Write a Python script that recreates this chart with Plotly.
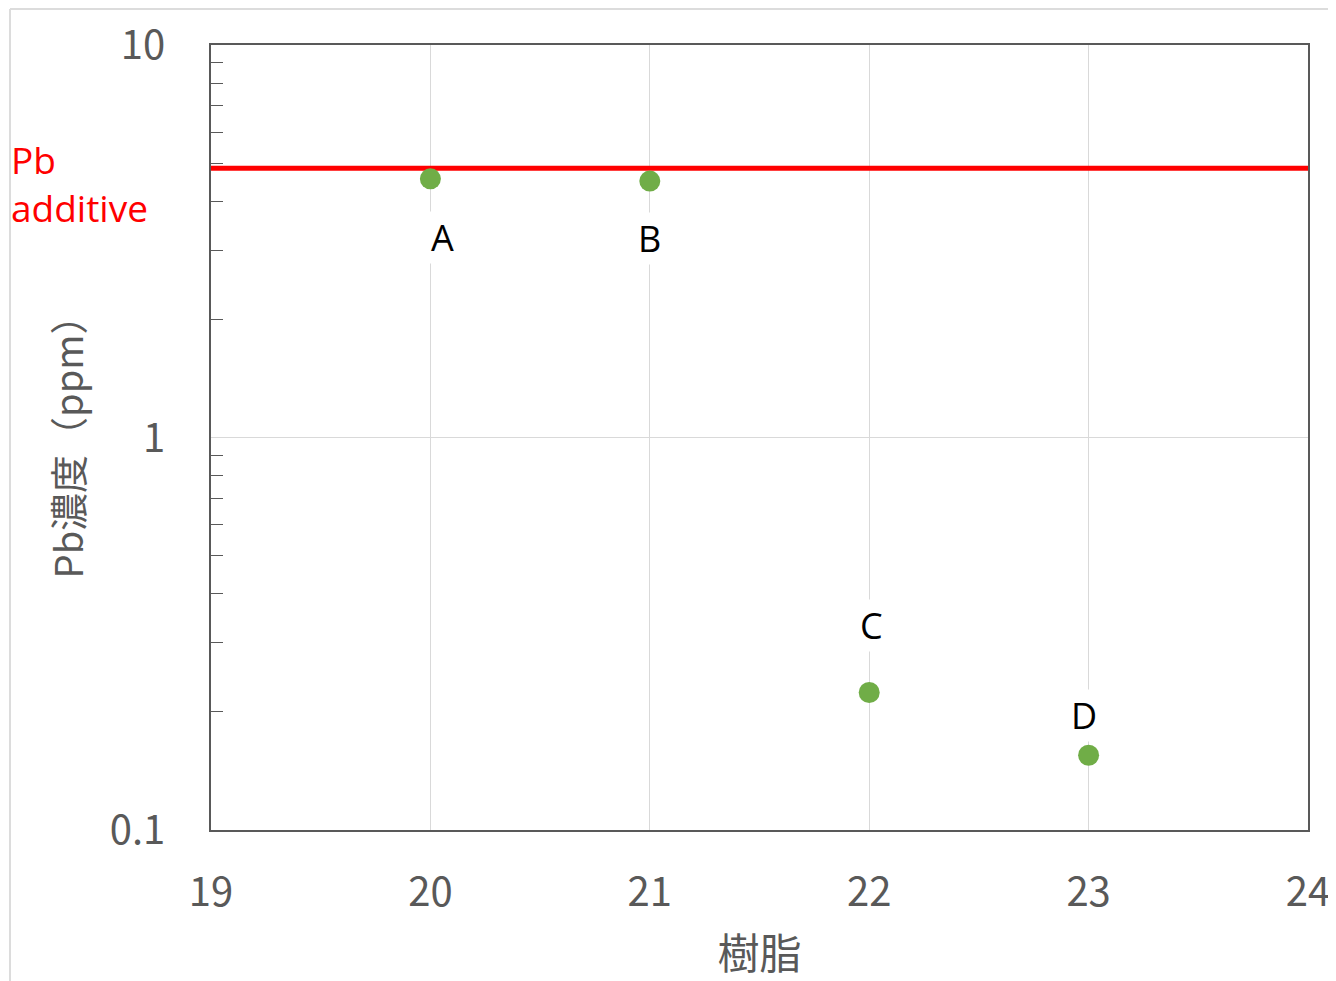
import math
import plotly.graph_objects as go

# Data
categories = ["A", "B", "C", "D"]
resin_x = [20, 21, 22, 23]
pb_ppm = [4.56, 4.50, 0.224, 0.155]
additive_level = 4.85
additive_x = [19, 24]
y_tickvals = [0.1, 1, 10]
y_ticktext = ["0.1", "1", "10"]
y_minor = [0.2, 0.3, 0.4, 0.5, 0.6, 0.7, 0.8, 0.9, 2, 3, 4, 5, 6, 7, 8, 9]
x_tickvals = [19, 20, 21, 22, 23, 24]

# label offsets (px) relative to points
label_dx = [12, 0, 2, -5]
label_dy = [-59, -57, 67, 40]

GRAY = "#595959"
# page body has an 8px default margin; compensate
OFF = 8
W, H = 1336 - OFF, 981 - OFF
L, R, T, B = 211 - OFF, 28, 45 - OFF, 151
PW, PH = W - L - R, H - T - B


def px_to_paper_x(px):
    return (px - OFF - L) / PW


def px_to_paper_y(py):
    return 1 - (py - OFF - T) / PH


fig = go.Figure()

fig.add_trace(go.Scatter(
    x=additive_x, y=[additive_level, additive_level], mode="lines",
    line=dict(color="#ff0000", width=5), hoverinfo="skip", showlegend=False))

fig.add_trace(go.Scatter(
    x=resin_x, y=pb_ppm, mode="markers",
    marker=dict(color="#70ad47", size=21), showlegend=False))

for cx, cy, lab, dx, dy in zip(resin_x, pb_ppm, categories, label_dx, label_dy):
    fig.add_annotation(x=cx, y=math.log10(cy), yref="y", xref="x", text=lab, showarrow=False,
                       xshift=dx, yshift=dy, bgcolor="white",
                       font=dict(family="Open Sans, Noto Sans", size=36, color="black"))

fig.add_annotation(xref="paper", yref="paper", x=px_to_paper_x(9), y=px_to_paper_y(184),
                   xanchor="left", yanchor="middle", align="left", showarrow=False,
                   text="Pb<br>additive",
                   font=dict(family="Open Sans, Noto Sans", size=37, color="#ff0000"))

# outer frame decoration
fig.add_shape(type="line", xref="paper", yref="paper", x0=px_to_paper_x(10), x1=px_to_paper_x(1340),
              y0=px_to_paper_y(9), y1=px_to_paper_y(9), line=dict(color="#dcdcdc", width=2), layer="below")
fig.add_shape(type="line", xref="paper", yref="paper", x0=px_to_paper_x(10), x1=px_to_paper_x(10),
              y0=px_to_paper_y(9), y1=px_to_paper_y(990), line=dict(color="#dcdcdc", width=2), layer="below")

fig.update_layout(
    width=W, height=H,
    margin=dict(l=L, r=R, t=T, b=B),
    paper_bgcolor="white", plot_bgcolor="white",
    font=dict(family="Noto Sans CJK JP", color=GRAY),
    xaxis=dict(range=[19, 24], tickvals=x_tickvals, ticks="",
               showgrid=True, gridcolor="#d9d9d9", gridwidth=1,
               showline=True, mirror=True, linecolor=GRAY, linewidth=1.5,
               zeroline=False, tickfont=dict(size=40, color=GRAY),
               ticklabelstandoff=26,
               title=dict(text="樹脂", font=dict(size=42, color=GRAY), standoff=24),
               automargin=False),
    yaxis=dict(type="log", range=[-1, 1], tickvals=y_tickvals, ticktext=y_ticktext,
               ticks="inside", ticklen=0, tickcolor=GRAY,
               minor=dict(tickvals=y_minor, ticks="inside", ticklen=12,
                          tickcolor=GRAY, showgrid=False),
               showgrid=True, gridcolor="#d9d9d9", gridwidth=1,
               showline=True, mirror=True, linecolor=GRAY, linewidth=1.5,
               zeroline=False, tickfont=dict(size=40, color=GRAY),
               ticklabelstandoff=36,
               title=dict(text="Pb濃度（ppm）", font=dict(size=38, color=GRAY), standoff=14),
               automargin=False),
)

fig.write_html("out.html")
